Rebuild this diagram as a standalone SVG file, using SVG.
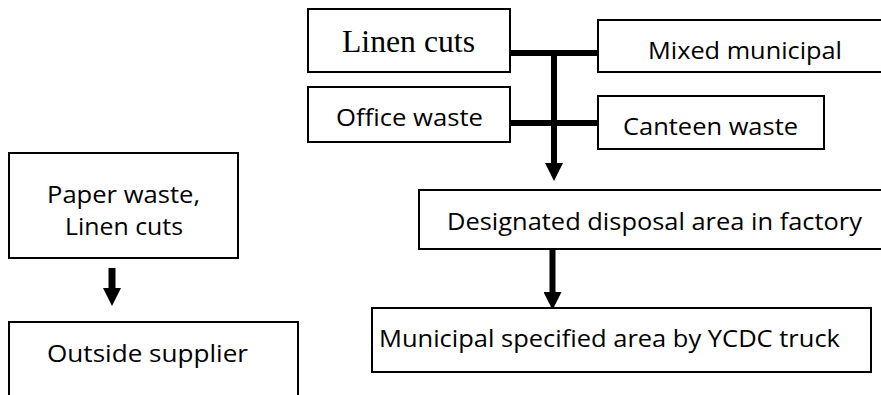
<svg xmlns="http://www.w3.org/2000/svg" width="881" height="395" viewBox="0 0 881 395">
<style>
.box{fill:#fff;stroke:#000;stroke-width:2}
.t{font-family:"Open Sans","Liberation Sans",sans-serif;font-size:24px;fill:#000}
.s{font-family:"Liberation Serif","Times New Roman",serif;font-size:32px;fill:#000}
.c{stroke:#000;stroke-width:6;fill:none}
</style>
<defs>
<marker id="ah" markerUnits="userSpaceOnUse" markerWidth="18" markerHeight="18" refX="0" refY="9" orient="auto">
<path d="M0,0 L18,9 L0,18 Z" fill="#000"/>
</marker>
</defs>
<rect width="881" height="395" fill="#fff"/>
<g id="connectors">
<line class="c" x1="510" y1="53" x2="598" y2="53"/>
<line class="c" x1="510" y1="123" x2="598" y2="123"/>
<line class="c" x1="554" y1="50" x2="554" y2="163" marker-end="url(#ah)"/>
<line class="c" x1="112" y1="268" x2="112" y2="288" style="stroke-width:7" marker-end="url(#ah)"/>
<line class="c" x1="552.5" y1="250" x2="552.5" y2="292" marker-end="url(#ah)"/>
</g>
<g id="linen-cuts">
<rect class="box" x="308" y="9" width="202" height="63"/>
<text class="s" x="342" y="52" textLength="133" lengthAdjust="spacingAndGlyphs">Linen cuts</text>
</g>
<g id="mixed-municipal">
<rect class="box" x="598" y="20" width="290" height="52"/>
<text class="t" x="648" y="59" textLength="194" lengthAdjust="spacingAndGlyphs">Mixed municipal</text>
</g>
<g id="office-waste">
<rect class="box" x="308" y="87" width="202" height="55"/>
<text class="t" x="336" y="126" textLength="147" lengthAdjust="spacingAndGlyphs">Office waste</text>
</g>
<g id="canteen-waste">
<rect class="box" x="598" y="96" width="226" height="53"/>
<text class="t" x="623" y="135" textLength="175" lengthAdjust="spacingAndGlyphs">Canteen waste</text>
</g>
<g id="paper-waste">
<rect class="box" x="9" y="153" width="229" height="105"/>
<text class="t" x="47" y="203" textLength="153" lengthAdjust="spacingAndGlyphs">Paper waste,</text>
<text class="t" x="65" y="235" textLength="118" lengthAdjust="spacingAndGlyphs">Linen cuts</text>
</g>
<g id="outside-supplier">
<rect class="box" x="9" y="322" width="289" height="90"/>
<text class="t" x="47" y="362" textLength="201" lengthAdjust="spacingAndGlyphs">Outside supplier</text>
</g>
<g id="designated-area">
<rect class="box" x="419" y="190" width="470" height="59"/>
<text class="t" x="447" y="230" textLength="415" lengthAdjust="spacingAndGlyphs">Designated disposal area in factory</text>
</g>
<g id="municipal-area">
<rect class="box" x="372" y="308" width="499" height="64"/>
<text class="t" x="379" y="347" textLength="461" lengthAdjust="spacingAndGlyphs">Municipal specified area by YCDC truck</text>
</g>
</svg>
